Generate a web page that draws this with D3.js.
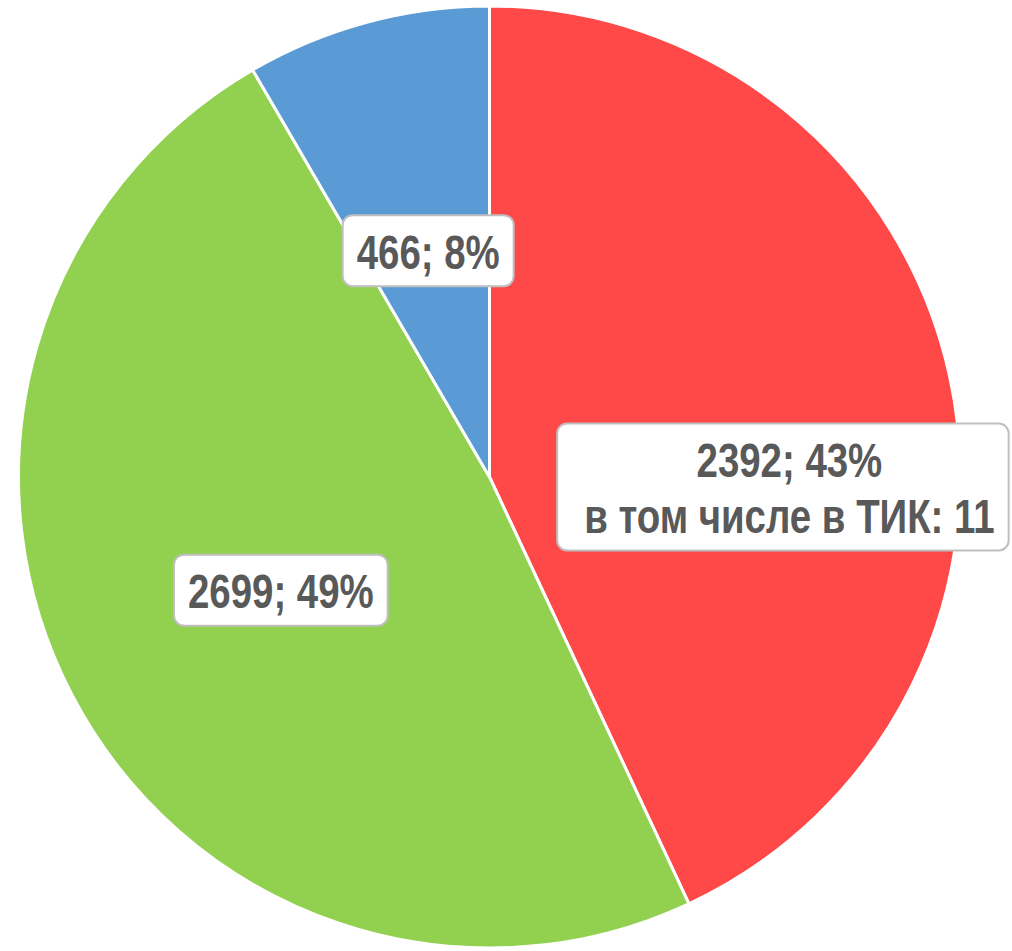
<!DOCTYPE html>
<html>
<head>
<meta charset="utf-8">
<script src="https://cdn.jsdelivr.net/npm/d3@7"></script>
<style>
	body { margin: 0; background: #fff; }
	svg { display: block; }
	.label-text { font-family: "Liberation Sans", Arial, sans-serif; font-weight: bold; fill: #595959; }
</style>
</head>
<body>
<svg id="chart"></svg>
<script>
/* Data */
var values = [2392, 2699, 466];
var colors = ["#FF4848", "#92D050", "#5B9BD5"];
var extraLines = ["в том числе в ТИК: 11", "", ""];

var width = 1012,
	height = 951;

var cx = 489.5,
	cy = 477,
	radius = 471;

// red label is nudged out of the centroid like in the source chart
var labelShift = [[70, 61], [0, 4], [0, 1]];
// extra room on the left of the box (two-line label is wider on that side)
var boxExtraLeft = [13, 0, 0];

var svg = d3.select("#chart")
	.attr("width", width)
	.attr("height", height);

var total = d3.sum(values);

var pie = d3.pie()
	.sort(null)
	.value(function(d){ return d; });

var arc = d3.arc()
	.innerRadius(0)
	.outerRadius(radius);

var labelArc = d3.arc()
	.innerRadius(radius / 2)
	.outerRadius(radius / 2);

var g = svg.append("g")
	.attr("transform", "translate(" + cx + "," + cy + ")");

var arcs = pie(values);

g.selectAll(".slice")
	.data(arcs)
	.enter().append("path")
	.attr("class", "slice")
	.attr("d", arc)
	.attr("fill", function(d, i){ return colors[i]; })
	.attr("stroke", "#fff")
	.attr("stroke-width", 3)
	.attr("stroke-linejoin", "round");

/* Labels */

var fontSize = 48,
	squeeze = 0.8,	// narrow face is not installed, so condense by hand
	lineH = 56,
	padX = 14,
	padV = 7.5;

var labels = g.selectAll(".label")
	.data(arcs)
	.enter().append("g")
	.attr("class", "label")
	.attr("transform", function(d, i){
		var c = labelArc.centroid(d);
		return "translate(" + (c[0] + labelShift[i][0]) + "," + (c[1] + labelShift[i][1]) + ")";
	});

labels.each(function(d, i){
	var lbl = d3.select(this);
	var lines = [d.value + "; " + Math.round(d.value / total * 100) + "%"];
	if (extraLines[i]) lines.push(extraLines[i]);

	var rect = lbl.append("rect");

	var text = lbl.append("text")
		.attr("class", "label-text")
		.attr("text-anchor", "middle")
		.attr("transform", "scale(" + squeeze + ",1)")
		.style("font-size", fontSize + "px");

	var top = -lines.length * lineH / 2;
	lines.forEach(function(s, k){
		text.append("tspan")
			.attr("x", 0)
			.attr("y", top + lineH * k + lineH / 2)
			.attr("dy", "0.38em")
			.text(s);
	});

	var w = text.node().getBBox().width * squeeze + 2 * padX;
	var h = lines.length * lineH + 2 * padV;

	rect.attr("x", -w / 2 - boxExtraLeft[i])
		.attr("y", -h / 2)
		.attr("width", w + boxExtraLeft[i])
		.attr("height", h)
		.attr("rx", 10)
		.attr("fill", "#fff")
		.attr("stroke", "#BFBFBF")
		.attr("stroke-width", 2);
});
</script>
</body>
</html>
